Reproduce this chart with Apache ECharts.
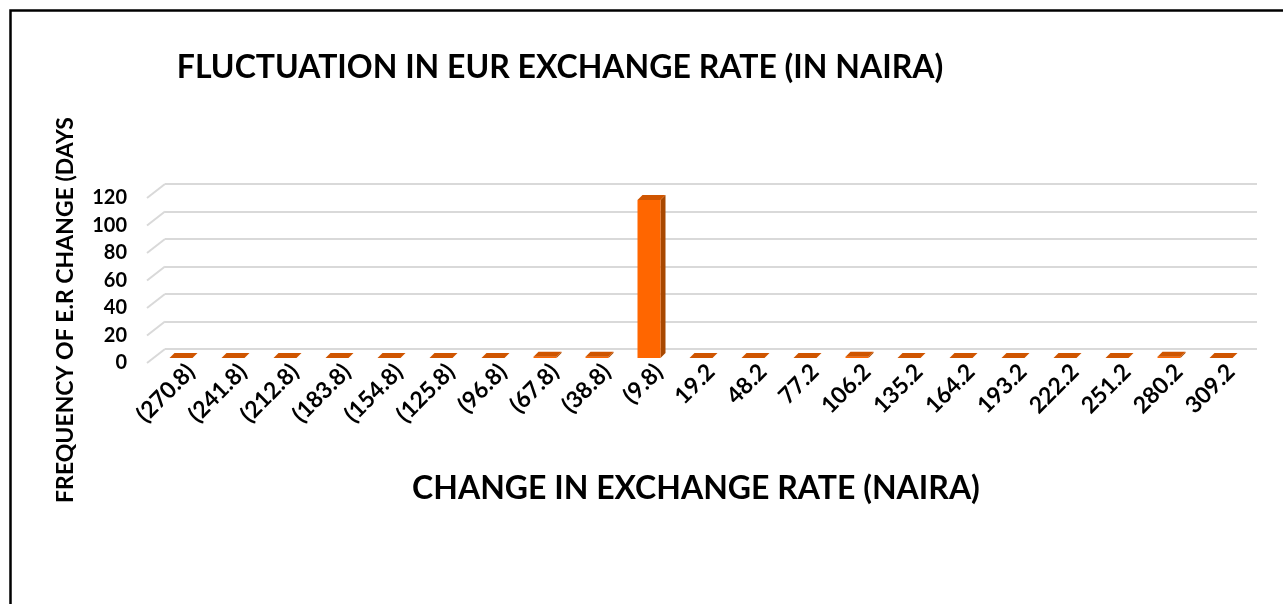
<!DOCTYPE html>
<html>
<head>
<meta charset="utf-8">
<script src="https://cdn.jsdelivr.net/npm/echarts@6/dist/echarts.min.js"></script>
<style>
html,body{margin:0;padding:0;background:#fff;}
#chart{width:1283px;height:604px;}
</style>
</head>
<body>
<div id="chart"></div>
<script>
const categories = ['(270.8)','(241.8)','(212.8)','(183.8)','(154.8)','(125.8)','(96.8)','(67.8)','(38.8)','(9.8)','19.2','48.2','77.2','106.2','135.2','164.2','193.2','222.2','251.2','280.2','309.2'];
const frequency = [0,0,0,0,0,0,0,1,1,115,0,0,0,1,0,0,0,0,0,1,0];
const yTicks = [0,20,40,60,80,100,120];
const chartTitle = 'FLUCTUATION IN EUR EXCHANGE RATE (IN NAIRA)';
const xTitle = 'CHANGE IN EXCHANGE RATE (NAIRA)';
const yTitle = 'FREQUENCY OF E.R CHANGE (DAYS';

const FONT = 'Lato, "Open Sans", sans-serif';
const chart = echarts.init(document.getElementById('chart'), null, {renderer:'canvas'});

// 3D geometry (pixels)
const FRONT_DX = -10, FRONT_DY = 9;   // bar front plane relative to back wall
const DEPTH_DX = 5, DEPTH_DY = -5;    // bar depth
const BAR_W = 23;
const WALL_DX = -18, WALL_DY = 14;    // floor/side wall depth

function renderBar(params, api) {
  const i = api.value(0), v = api.value(1);
  const base = api.coord([i, 0]);
  const top = api.coord([i, v]);
  const cx = base[0] + FRONT_DX;
  const L = cx - BAR_W/2, R = cx + BAR_W/2;
  const By = base[1] + FRONT_DY, Ty = top[1] + FRONT_DY;
  const children = [];
  if (By - Ty > 0.1) {
    children.push({type:'polygon', shape:{points:[[R,Ty],[R+DEPTH_DX,Ty+DEPTH_DY],[R+DEPTH_DX,By+DEPTH_DY],[R,By]]}, style:{fill:'#a84800'}});
    children.push({type:'rect', shape:{x:L, y:Ty, width:BAR_W, height:By-Ty}, style:{fill:'#ff6600'}});
  }
  children.push({type:'polygon', shape:{points:[[L,Ty],[R,Ty],[R+DEPTH_DX,Ty+DEPTH_DY],[L+DEPTH_DX,Ty+DEPTH_DY]]}, style:{fill:'#cf5500'}});
  return {type:'group', children};
}

function renderWall(params, api) {
  const v = api.value(1);
  const p = api.coord([0, v]);
  const x0 = p[0] - api.size([1,0])[0]/2;
  return {type:'line', shape:{x1:x0, y1:p[1], x2:x0+WALL_DX, y2:p[1]+WALL_DY}, style:{stroke:'#d9d9d9', lineWidth:2}};
}

chart.setOption({
  backgroundColor:'#fff',
  animation:false,
  title:[
    {text:chartTitle, left:555, top:47, textAlign:'center', textStyle:{fontFamily:FONT, fontWeight:'bold', fontSize:32, color:'#000'}},
    {text:xTitle, left:691, top:468, textAlign:'center', textStyle:{fontFamily:FONT, fontWeight:'bold', fontSize:32, color:'#000'}}
  ],
  graphic:[
    {type:'rect', shape:{x:10.5, y:10.5, width:1400, height:800}, style:{fill:null, stroke:'#000', lineWidth:2.5}, silent:true},
    {type:'text', x:66, y:310, rotation:Math.PI/2, style:{text:yTitle, font:'bold 23px '+FONT, fill:'#000', align:'center', verticalAlign:'middle'}}
  ],
  grid:[
    {left:165, right:26, top:184, bottom:255, containLabel:false},
    {left:147, right:44, top:198, bottom:241, containLabel:false}
  ],
  xAxis:[
    {
      type:'category', data:categories, boundaryGap:true, gridIndex:0,
      axisLine:{show:false}, axisTick:{show:false},
      axisLabel:{interval:0, rotate:45, margin:19, fontFamily:FONT, fontWeight:'bold', fontSize:23, color:'#000'}
    },
    {type:'category', data:categories, gridIndex:1, show:false}
  ],
  yAxis:[
    {
      type:'value', min:0, max:120, interval:20, gridIndex:0,
      axisLine:{show:false}, axisTick:{show:false},
      splitLine:{lineStyle:{color:'#d9d9d9', width:2}},
      axisLabel:{show:false}
    },
    {
      type:'value', min:0, max:120, interval:20, gridIndex:1,
      axisLine:{show:false}, axisTick:{show:false}, splitLine:{show:false},
      axisLabel:{margin:20, fontFamily:FONT, fontWeight:'bold', fontSize:20, color:'#000'}
    }
  ],
  series:[
    {type:'custom', renderItem:renderWall, data:yTicks.map(t=>[0,t]), silent:true, z:1},
    {type:'custom', renderItem:renderBar, data:frequency.map((v,i)=>[i,v]), z:2}
  ]
});
</script>
</body>
</html>
